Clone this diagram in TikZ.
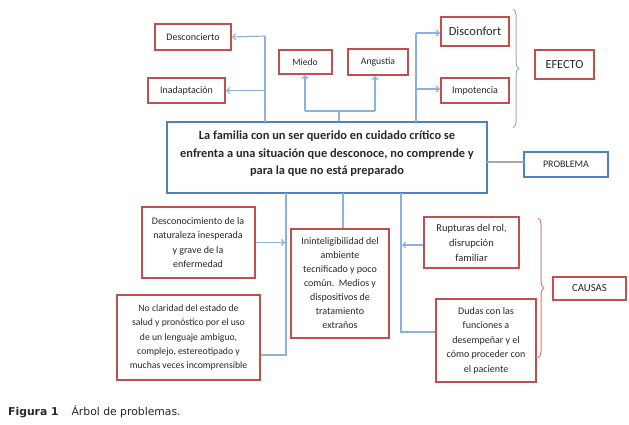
\documentclass[tikz,border=0pt]{standalone}
\usepackage{fontspec}
\setmainfont{Carlito}
\newfontfamily\capfont{DejaVu Sans}
\usetikzlibrary{arrows.meta,decorations.pathreplacing}
\definecolor{boxred}{RGB}{192,80,77}
\definecolor{boxblue}{RGB}{79,129,189}
\definecolor{linkblue}{RGB}{141,176,220}
\definecolor{bracegray}{RGB}{150,170,205}
\definecolor{bracered}{RGB}{210,120,125}
\definecolor{probgray}{RGB}{165,165,180}
\definecolor{txt}{RGB}{40,40,40}
\tikzset{
  redbox/.style={draw=boxred, line width=2pt, fill=white, inner sep=0pt, align=center,
    text=txt, font=\fontsize{10}{14}\selectfont},
  bluebox/.style={draw=boxblue, line width=2pt, fill=white, inner sep=0pt, align=center,
    text=txt},
  link/.style={draw=linkblue, line width=1.1pt},
  arr/.style={link, -{Straight Barb[length=3pt,width=6pt]}},
  bracepath/.style={decorate, decoration={brace, amplitude=6pt}, line width=1pt},
}
\begin{document}
\begin{tikzpicture}[x=1pt,y=-1pt]
\useasboundingbox[fill=white] (0,0) rectangle (629,425);

% effects
\node[redbox, minimum width=76pt, minimum height=26pt] (desc) at (193,37) {Desconcierto};
\node[redbox, minimum width=77pt, minimum height=25pt] (inad) at (186.5,90.5) {Inadaptación};
\node[redbox, minimum width=53pt, minimum height=24pt, font=\fontsize{9.6}{12}\selectfont] (miedo) at (305,62) {Miedo};
\node[redbox, minimum width=60pt, minimum height=26pt, font=\fontsize{9.7}{12}\selectfont] (ang) at (378,62) {Angustia};
\node[redbox, minimum width=68pt, minimum height=29pt, font=\fontsize{12.5}{14}\selectfont] (disc) at (475,31.5) {Disconfort};
\node[redbox, minimum width=68pt, minimum height=25pt] (impo) at (475,90.5) {Impotencia};
\node[redbox, minimum width=59pt, minimum height=29pt, font=\fontsize{12.3}{14}\selectfont] (efecto) at (564.5,64.5) {EFECTO};

% main problem
\node[bluebox, line width=2.5pt, minimum width=320pt, minimum height=71pt,
  font=\fontsize{12.4}{17.5}\selectfont\bfseries] (main) at (327,157.5)
  {La familia con un ser querido en cuidado crítico se\\
   enfrenta a una situación que desconoce, no comprende y\\
   para la que no está preparado\rule[-9pt]{0pt}{9pt}};
\node[bluebox, minimum width=84pt, minimum height=25pt, font=\fontsize{10}{12}\selectfont] (prob) at (566,164.5) {PROBLEMA};

% causes
\node[redbox, minimum width=113pt, minimum height=71pt, font=\fontsize{10}{14.5}\selectfont] (desconoc) at (198,242.5)
  {Desconocimiento de la\\ naturaleza inesperada\\ y grave de la\\ enfermedad};
\node[redbox, minimum width=143pt, minimum height=85pt, font=\fontsize{9.7}{14.2}\selectfont] (noclar) at (188.5,337.5)
  {No claridad del estado de\\ salud y pronóstico por el uso\\ de un lenguaje ambiguo,\\ complejo, estereotipado y\\ muchas veces incomprensible};
\node[redbox, minimum width=98pt, minimum height=109pt] (inint) at (340,283.5)
  {Ininteligibilidad del\\ ambiente\\ tecnificado y poco\\ común.\ \ Medios y\\ dispositivos de\\ tratamiento\\ extraños};
\node[redbox, minimum width=95pt, minimum height=51pt, font=\fontsize{10.5}{15}\selectfont] (rupt) at (471.5,242.5)
  {Rupturas del rol,\\ disrupción\\ familiar};
\node[redbox, minimum width=100pt, minimum height=83pt, font=\fontsize{10}{14.5}\selectfont] (dudas) at (486,340.5)
  {Dudas con las\\ funciones a\\ desempeñar y el\\ cómo proceder con\\ el paciente};
\node[redbox, minimum width=73pt, minimum height=23pt, font=\fontsize{10.8}{12}\selectfont] (causas) at (589.5,288.5) {CAUSAS};

% coordinates for connectors
\coordinate (lv) at (265,122);
\coordinate (lvtop) at (265,36);
\coordinate (lvinad) at (265,90.5);
\coordinate (hbar) at (339,111);
\coordinate (hbarl) at (305,111);
\coordinate (hbarr) at (375,111);
\coordinate (rv) at (416,122);
\coordinate (rvtop) at (416,33);
\coordinate (rvimp) at (416,89);
\coordinate (pl) at (487,162);
\coordinate (pr) at (524,162);
\coordinate (b1) at (286,193);
\coordinate (b1c) at (286,355);
\coordinate (b1a) at (285,242.5);
\coordinate (b2) at (343,193);
\coordinate (b3) at (401,193);
\coordinate (b3c) at (401,332);
\coordinate (b3a) at (402,245);

% effect connectors
\draw[link] (lv) -- (lvtop);
\draw[arr] (lvtop) -- (desc.east);
\draw[arr] (lvinad) -- (inad.east);
\draw[link] (hbar) -- (hbar |- main.north);
\draw[link] (hbarl) -- (hbarr);
\draw[arr] (hbarl) -- (miedo.south);
\draw[arr] (hbarr) -- (hbarr |- ang.south);
\draw[link] (rv) -- (rvtop);
\draw[arr] (rvtop) -- (rvtop -| disc.west);
\draw[arr] (rvimp) -- (rvimp -| impo.west);
\draw[link, draw=probgray] (pl) -- (pr);

% cause connectors
\draw[link] (b1) -- (b1c) -- (b1c -| noclar.east);
\draw[arr] (desconoc.east) -- (b1a);
\draw[link] (b2) -- (b2 |- inint.north);
\draw[link] (b3) -- (b3c) -- (b3c -| dudas.west);
\draw[arr] (rupt.west |- b3a) -- (b3a);

% braces
\draw[bracepath, draw=bracegray] (513,9) -- (513,128);
\draw[bracepath, draw=bracered] (538,218) -- (538,358);

% caption
\node[anchor=base west, inner sep=0pt, font=\capfont\fontsize{10.8}{13}\selectfont, text=txt] (cap) at (8,415)
  {\textbf{Figura 1}\hspace{13pt}Árbol de problemas.};
\end{tikzpicture}
\end{document}
